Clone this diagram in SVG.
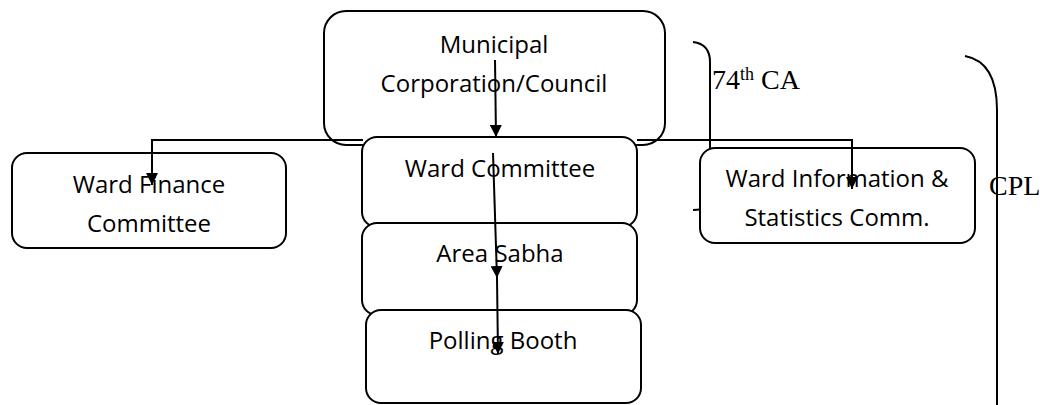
<svg xmlns="http://www.w3.org/2000/svg" width="1040" height="405" viewBox="0 0 1040 405">
<defs>
<marker id="arr" viewBox="0 0 12 12" refX="12" refY="6" markerWidth="12" markerHeight="12" markerUnits="userSpaceOnUse" orient="auto">
<path d="M0,0 L12,6 L0,12 Z" fill="#000"/>
</marker>
</defs>
<style>
.box{fill:#fff;stroke:#000;stroke-width:2}
.lbl{font-family:"Open Sans","Liberation Sans",sans-serif;font-size:24px;fill:#000;text-anchor:middle}
.ann{font-family:"Liberation Serif","DejaVu Serif",serif;font-size:28px;fill:#000}
.brace{fill:none;stroke:#000;stroke-width:2}
.conn{fill:none;stroke:#000;stroke-width:2}
</style>
<rect width="1040" height="405" fill="#fff"/>
<g id="brace-74ca">
<path class="brace" d="M693,42 Q710,44 710,62 L710,200 Q710,210 693,210"/>
<text class="ann" x="712" y="89">74<tspan font-size="18" dy="-9">th</tspan><tspan dy="9"> CA</tspan></text>
</g>
<g id="brace-cpl">
<path class="brace" d="M965,56 Q997,62 997,110 L997,405"/>
<text class="ann" x="989" y="195">CPL</text>
</g>
<g id="municipal">
<rect class="box" x="324" y="11" width="341" height="134" rx="22"/>
<text class="lbl" x="494" y="53">Municipal</text>
<text class="lbl" x="494" y="92">Corporation/Council</text>
</g>
<g id="ward-finance">
<rect class="box" x="12" y="153" width="274" height="95" rx="15"/>
<text class="lbl" x="149" y="193">Ward Finance</text>
<text class="lbl" x="149" y="232">Committee</text>
</g>
<g id="ward-info">
<rect class="box" x="700" y="148" width="275" height="95" rx="15"/>
<text class="lbl" x="837" y="187">Ward Information &amp;</text>
<text class="lbl" x="837" y="226">Statistics Comm.</text>
</g>
<g id="ward-committee">
<rect class="box" x="362" y="137" width="275" height="90" rx="15"/>
<text class="lbl" x="500" y="177">Ward Committee</text>
</g>
<g id="area-sabha">
<rect class="box" x="362" y="223" width="275" height="92" rx="15"/>
<text class="lbl" x="500" y="262">Area Sabha</text>
</g>
<g id="polling-booth">
<rect class="box" x="366" y="310" width="275" height="93" rx="15"/>
<text class="lbl" x="503" y="349">Polling Booth</text>
</g>
<g id="connectors">
<path class="conn" d="M495,60 L496,137" marker-end="url(#arr)"/>
<path class="conn" d="M363,140 H152 V185" marker-end="url(#arr)"/>
<path class="conn" d="M637,140 H852 V189" marker-end="url(#arr)"/>
<path class="conn" d="M493,153 L497,278" marker-end="url(#arr)"/>
<path class="conn" d="M497,278 L498,354" marker-end="url(#arr)"/>
</g>
</svg>
